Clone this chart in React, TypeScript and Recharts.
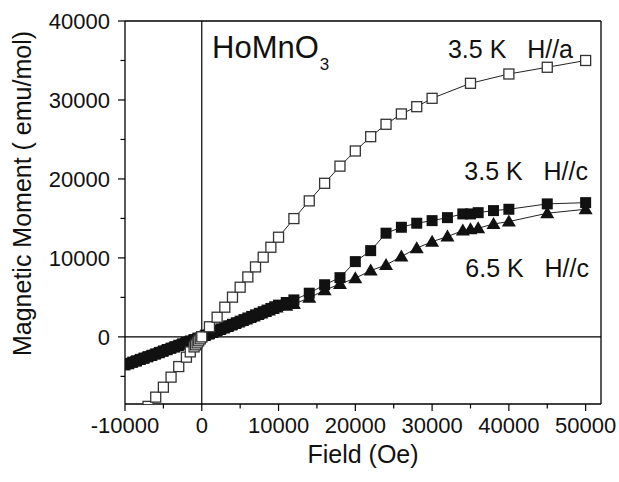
import { ScatterChart, Scatter, XAxis, YAxis, ReferenceLine } from 'recharts';

// 3.5 K, H//a (open squares)
const fieldA = [
  -7000, -6000, -5000, -4000, -3000, -2000, -1500, -1000, -800, -600, -400, -200, 0,
  1000, 2000, 3000, 4000, 5000, 6000, 7000, 8000, 9000, 10000,
  12000, 14000, 16000, 18000, 20000, 22000, 24000, 26000, 28000, 30000,
  35000, 40000, 45000, 50000,
];
const momentA = [
  -8800, -7630, -6370, -5100, -3760, -2570, -1900, -1270, -1010, -760, -500, -250, 0,
  1280, 2490, 3760, 5030, 6290, 7590, 8860, 10090, 11350, 12620,
  14980, 17220, 19450, 21620, 23540, 25350, 26920, 28230, 29150, 30210,
  32110, 33290, 34140, 35000,
];

// 3.5 K, H//c (filled squares)
const fieldC35 = [
  -10000, -9500, -9000, -8500, -8000, -7500, -7000, -6500, -6000, -5500, -5000,
  -4500, -4000, -3500, -3000, -2500, -2000, -1500, -1000, -500, 0,
  500, 1000, 1500, 2000, 2500, 3000, 3500, 4000, 4500, 5000,
  5500, 6000, 6500, 7000, 7500, 8000, 8500, 9000, 9500, 10000,
  11000, 12000, 14000, 16000, 18000, 20000, 22000, 24000, 26000, 28000,
  30000, 32000, 34000, 35000, 36000, 38000, 40000, 45000, 50000,
];
const momentC35 = [
  -3550, -3380, -3200, -3030, -2850, -2680, -2500, -2330, -2150, -1960, -1780,
  -1600, -1420, -1240, -1060, -880, -700, -520, -340, -150, 30,
  230, 420, 620, 810, 1010, 1200, 1400, 1590, 1790, 1990,
  2190, 2390, 2590, 2790, 2990, 3190, 3390, 3600, 3810, 4020,
  4350, 4680, 5530, 6600, 7500, 9530, 10920, 13130, 13880, 14390,
  14720, 15100, 15570, 15570, 15730, 15990, 16160, 16840, 17000,
];

// 6.5 K, H//c (filled triangles)
const fieldC65 = [
  -9750, -9250, -8750, -8250, -7750, -7250, -6750, -6250, -5750, -5250,
  -4750, -4250, -3750, -3250, -2750, -2250, -1750, -1250, -750, -250,
  250, 750, 1250, 1750, 2250, 2750, 3250, 3750, 4250, 4750,
  5250, 5750, 6250, 6750, 7250, 7750, 8250, 8750, 9250, 9750,
  11000, 12000, 14000, 16000, 18000, 20000, 22000, 24000, 26000, 28000,
  30000, 32000, 34000, 35000, 36000, 38000, 40000, 45000, 50000,
];
const momentC65 = [
  -3460, -3290, -3110, -2940, -2760, -2590, -2410, -2240, -2060, -1870,
  -1690, -1510, -1330, -1150, -970, -790, -610, -430, -250, -60,
  100, 290, 480, 670, 860, 1050, 1240, 1430, 1620, 1810,
  2000, 2190, 2380, 2570, 2760, 2950, 3140, 3330, 3520, 3710,
  3950, 4150, 4950, 5900, 6700, 7430, 8390, 9110, 10170, 11230,
  12060, 12700, 13460, 13630, 13760, 14300, 14600, 15660, 16160,
];

const xTicks = [-10000, -5000, 0, 5000, 10000, 15000, 20000, 25000, 30000, 35000, 40000, 45000, 50000];
const yTicks = [-5000, 0, 5000, 10000, 15000, 20000, 25000, 30000, 35000, 40000];

const toRows = (xs: number[], ys: number[]) => xs.map((x, i) => ({ x, y: ys[i] }));
const dataA = toRows(fieldA, momentA);
const dataC35 = toRows(fieldC35, momentC35);
const dataC65 = toRows(fieldC65, momentC65);

const FONT = '"Liberation Sans", Arial, Helvetica, sans-serif';
const TS = 7;
const TM = 2;
const YTM = 8;

const XTick = ({ x, y, payload }: any) => {
  const major = payload.value % 10000 === 0;
  const y0 = y - TM - TS;
  return (
    <g>
      <line x1={x} x2={x} y1={y0} y2={y0 + (major ? 7 : 4.5)} stroke="#000" strokeWidth={1.2} />
      {major && (
        <text x={x} y={y + 20} textAnchor="middle" fontSize={22} fontFamily={FONT} fill="#111">
          {payload.value}
        </text>
      )}
    </g>
  );
};

const YTick = ({ x, y, payload }: any) => {
  const major = payload.value % 10000 === 0;
  const x0 = x + YTM + TS;
  return (
    <g>
      <line x1={x0} x2={x0 - (major ? 7 : 4.5)} y1={y} y2={y} stroke="#000" strokeWidth={1.2} />
      {major && (
        <text x={x} y={y + 8} textAnchor="end" fontSize={22} fontFamily={FONT} fill="#111">
          {payload.value}
        </text>
      )}
    </g>
  );
};

const OpenSquare = ({ cx, cy }: any) => (
  <rect x={cx - 5} y={cy - 5} width={10} height={10} fill="#fff" stroke="#333" strokeWidth={1.3} />
);
const FilledSquare = ({ cx, cy }: any) => (
  <rect x={cx - 5.5} y={cy - 5.5} width={11} height={11} fill="#111" />
);
const Triangle = ({ cx, cy }: any) => (
  <polygon points={`${cx},${cy - 7} ${cx - 7},${cy + 5} ${cx + 7},${cy + 5}`} fill="#111" />
);

export default function App() {
  return (
    <div style={{ position: 'fixed', left: 0, top: 0, width: 619, height: 482, background: '#fff' }}>
      <ScatterChart width={619} height={482} margin={{ top: 21, right: 18, bottom: 0, left: 0 }}>
        <XAxis
          type="number"
          dataKey="x"
          domain={[-10000, 52000]}
          ticks={xTicks}
          allowDataOverflow
          height={78}
          tickSize={TS}
          tickMargin={TM}
          tickLine={false}
          tick={<XTick />}
          stroke="#000"
          strokeWidth={1.3}
          interval={0}
          label={{ value: 'Field (Oe)', position: 'insideBottom', offset: 19, fontSize: 25, fontFamily: FONT, fill: '#111' }}
        />
        <YAxis
          type="number"
          dataKey="y"
          domain={[-8500, 40000]}
          ticks={yTicks}
          allowDataOverflow
          width={125}
          tickSize={TS}
          tickMargin={YTM}
          tickLine={false}
          tick={<YTick />}
          stroke="#000"
          strokeWidth={1.3}
          interval={0}
          label={{
            value: 'Magnetic Moment ( emu/mol)', angle: -90, position: 'center',
            dx: -40, dy: -19, fontSize: 25, fontFamily: FONT, fill: '#111',
          }}
        />
        <ReferenceLine y={40000} stroke="#000" strokeWidth={1.3} />
        <ReferenceLine x={52000} stroke="#000" strokeWidth={1.3} />
        <ReferenceLine y={0} stroke="#000" strokeWidth={1.2} />
        <ReferenceLine x={0} stroke="#000" strokeWidth={1.2} />
        <Scatter data={dataC65} line={{ stroke: '#222', strokeWidth: 1 }} lineType="joint" shape={<Triangle />} isAnimationActive={false} />
        <Scatter data={dataC35} line={{ stroke: '#222', strokeWidth: 1 }} lineType="joint" shape={<FilledSquare />} isAnimationActive={false} />
        <Scatter data={dataA} line={{ stroke: '#222', strokeWidth: 1 }} lineType="joint" shape={<OpenSquare />} isAnimationActive={false} />
      </ScatterChart>
      <svg width={619} height={482} style={{ position: 'absolute', left: 0, top: 0, pointerEvents: 'none' }}>
        <g fontFamily={FONT} fill="#111">
          <text x={212} y={58} fontSize={31}>
            HoMnO<tspan fontSize={17} dy={12} dx={1}>3</tspan>
          </text>
          <text x={573} y={58} fontSize={25} textAnchor="end" xmlSpace="preserve">3.5 K   H//a</text>
          <text x={588} y={180} fontSize={25} textAnchor="end" xmlSpace="preserve">3.5 K   H//c</text>
          <text x={589} y={277} fontSize={25} textAnchor="end" xmlSpace="preserve">6.5 K   H//c</text>
        </g>
      </svg>
    </div>
  );
}
